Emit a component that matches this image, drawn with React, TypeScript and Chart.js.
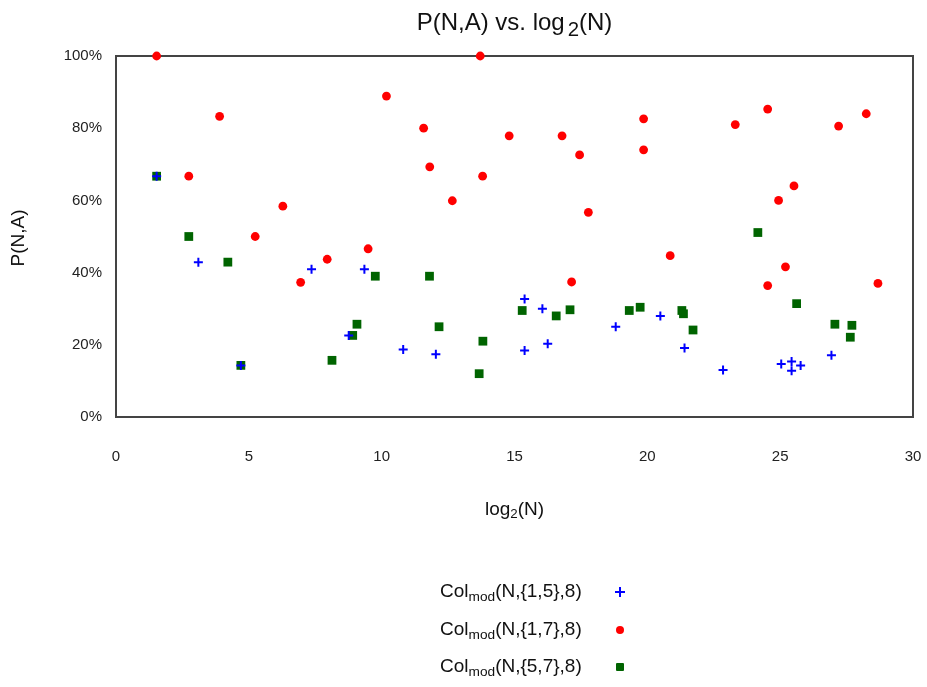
import { useEffect, useRef } from "react";
import { Chart, registerables } from "chart.js";

Chart.register(...registerables);

// log2(N) values and P(N,A) in percent
const blueX = [1.53, 3.1, 4.7, 7.36, 8.76, 9.35, 10.81, 12.04, 15.38, 15.38, 16.05, 16.25, 18.81, 20.49, 21.4, 22.85, 25.04, 25.43, 25.43, 25.77, 26.93];
const blueY = [66.7, 42.9, 14.3, 40.9, 22.6, 40.9, 18.7, 17.4, 32.7, 18.4, 30.0, 20.3, 25.0, 28.0, 19.1, 13.0, 14.7, 15.4, 12.8, 14.3, 17.1];

const redX = [1.53, 2.74, 3.9, 5.24, 6.28, 6.95, 7.95, 9.49, 10.18, 11.58, 11.81, 12.66, 13.71, 13.8, 14.8, 16.79, 17.15, 17.45, 17.78, 19.86, 19.86, 20.86, 23.31, 24.53, 24.53, 24.94, 25.2, 25.52, 27.2, 28.24, 28.68];
const redY = [100, 66.7, 83.3, 50.0, 58.4, 37.3, 43.7, 46.6, 88.9, 80.0, 69.3, 59.9, 100, 66.7, 77.9, 77.9, 37.4, 72.6, 56.7, 82.6, 74.0, 44.7, 81.0, 85.3, 36.4, 60.0, 41.6, 64.0, 80.6, 84.0, 37.0];

const greenX = [1.53, 2.74, 4.21, 4.7, 8.13, 8.91, 9.07, 9.76, 11.8, 12.16, 13.67, 13.81, 15.29, 16.57, 17.09, 19.32, 19.73, 21.3, 21.36, 21.72, 24.16, 25.62, 27.06, 27.64, 27.7];
const greenY = [66.7, 50.0, 42.9, 14.3, 15.7, 22.6, 25.7, 39.0, 39.0, 25.0, 12.0, 21.0, 29.5, 28.0, 29.7, 29.5, 30.4, 29.5, 28.6, 24.1, 51.1, 31.4, 25.7, 22.1, 25.4];

const seriesNames = ["{1,5}", "{1,7}", "{5,7}"];
const seriesColors = ["#0000ff", "#ff0000", "#006400"];

const xMin = 0;
const xMax = 30;
const xStep = 5;
const yMin = 0;
const yMax = 100;
const yStep = 20;

const FONT = "'Liberation Sans', Arial, sans-serif";

function pts(xs: number[], ys: number[]) {
  return xs.map((x, i) => ({ x, y: ys[i] }));
}

const boxPlugin = {
  id: "boxPlugin",
  beforeDatasetsDraw(chart: any) {
    const { ctx, chartArea } = chart;
    ctx.save();
    ctx.strokeStyle = "#444";
    ctx.lineWidth = 2;
    ctx.strokeRect(chartArea.left, chartArea.top, chartArea.right - chartArea.left, chartArea.bottom - chartArea.top);
    ctx.restore();
  },
};

function LegendMarker({ kind, color }: { kind: string; color: string }) {
  if (kind === "cross") {
    return (
      <div style={{ position: "absolute", left: -5, top: -5, width: 10, height: 10 }}>
        <div style={{ position: "absolute", left: 4, top: 0, width: 2, height: 10, background: color }} />
        <div style={{ position: "absolute", left: 0, top: 4, width: 10, height: 2, background: color }} />
      </div>
    );
  }
  if (kind === "circle") {
    return <div style={{ position: "absolute", left: -4, top: -4, width: 8, height: 8, borderRadius: "50%", background: color }} />;
  }
  return <div style={{ position: "absolute", left: -4, top: -4, width: 8, height: 8, borderRadius: 1, background: color }} />;
}

export default function App() {
  const ref = useRef<HTMLCanvasElement>(null);

  useEffect(() => {
    if (!ref.current) return;
    const chart = new Chart(ref.current, {
      type: "scatter",
      data: {
        datasets: [
          {
            label: "Col_mod(N,{1,5},8)",
            data: pts(blueX, blueY),
            pointStyle: "cross",
            pointRadius: 4.5,
            pointBorderWidth: 2,
            borderColor: seriesColors[0],
            backgroundColor: seriesColors[0],
            clip: false,
          },
          {
            label: "Col_mod(N,{1,7},8)",
            data: pts(redX, redY),
            pointStyle: "circle",
            pointRadius: 4.4,
            pointBorderWidth: 0,
            borderColor: seriesColors[1],
            backgroundColor: seriesColors[1],
            clip: false,
          },
          {
            label: "Col_mod(N,{5,7},8)",
            data: pts(greenX, greenY),
            pointStyle: "rect",
            pointRadius: 6.2,
            pointBorderWidth: 0,
            borderColor: seriesColors[2],
            backgroundColor: seriesColors[2],
            clip: false,
          },
        ] as any,
      },
      options: {
        animation: false,
        responsive: false,
        maintainAspectRatio: false,
        layout: { padding: { top: 56, right: 14, left: 0, bottom: 0 } },
        plugins: {
          legend: { display: false },
          title: { display: false },
          tooltip: { enabled: false },
        },
        scales: {
          x: {
            type: "linear",
            min: xMin,
            max: xMax,
            grid: { display: false, drawTicks: false },
            border: { display: false },
            ticks: {
              stepSize: xStep,
              padding: 31,
              color: "#222",
              font: { family: FONT, size: 15 },
            },
            afterFit: (scale: any) => {
              scale.height = 270;
              scale.paddingLeft = 0;
              scale.paddingRight = 0;
            },
          },
          y: {
            type: "linear",
            min: yMin,
            max: yMax,
            grid: { display: false, drawTicks: false },
            border: { display: false },
            ticks: {
              stepSize: yStep,
              padding: 14,
              color: "#222",
              font: { family: FONT, size: 15 },
              callback: (v: any) => v + "%",
            },
            afterFit: (scale: any) => {
              scale.width = 116;
              scale.paddingTop = 0;
              scale.paddingBottom = 0;
            },
          },
        },
      } as any,
      plugins: [boxPlugin],
    });
    return () => chart.destroy();
  }, []);

  const legendRows = [
    { kind: "cross", color: seriesColors[0], name: seriesNames[0], cy: 592 },
    { kind: "circle", color: seriesColors[1], name: seriesNames[1], cy: 630 },
    { kind: "rect", color: seriesColors[2], name: seriesNames[2], cy: 667 },
  ];

  return (
    <div style={{ position: "fixed", left: 0, top: 0, width: 927, height: 687, background: "#fff", fontFamily: FONT, color: "#111" }}>
      <canvas ref={ref} width={927} height={687} style={{ position: "absolute", left: 0, top: 0, width: 927, height: 687 }} />
      <div style={{ position: "absolute", left: 116, width: 797, top: 8, textAlign: "center", fontSize: 24, lineHeight: "28px", whiteSpace: "nowrap" }}>
        P(N,A) vs. log<sub style={{ fontSize: "0.85em", verticalAlign: "-0.3em", marginLeft: 3 }}>2</sub>(N)
      </div>
      <div style={{ position: "absolute", left: 116, width: 797, top: 497, textAlign: "center", fontSize: 19, lineHeight: "24px", whiteSpace: "nowrap" }}>
        log<sub style={{ fontSize: "0.7em", verticalAlign: "-0.25em" }}>2</sub>(N)
      </div>
      <div style={{ position: "absolute", left: 18 - 50, top: 238 - 12, width: 100, textAlign: "center", fontSize: 19, lineHeight: "24px", transform: "rotate(-90deg)", whiteSpace: "nowrap" }}>
        P(N,A)
      </div>
      {legendRows.map((r, i) => (
        <div key={i}>
          <div style={{ position: "absolute", left: 440, top: r.cy - 14, fontSize: 19, lineHeight: "26px", whiteSpace: "nowrap" }}>
            Col<sub style={{ fontSize: "0.72em", verticalAlign: "-0.3em" }}>mod</sub>(N,{r.name},8)
          </div>
          <div style={{ position: "absolute", left: 620, top: r.cy }}>
            <LegendMarker kind={r.kind} color={r.color} />
          </div>
        </div>
      ))}
    </div>
  );
}
